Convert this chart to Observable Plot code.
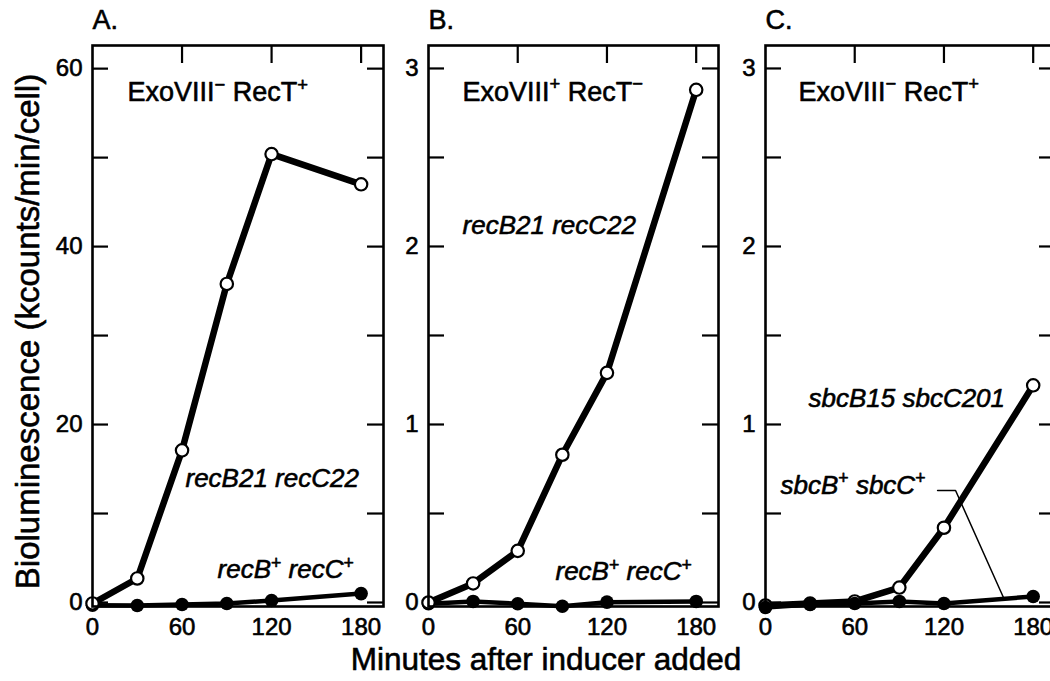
<!DOCTYPE html>
<html><head><meta charset="utf-8">
<script src="https://cdn.jsdelivr.net/npm/d3@7"></script>
<script src="https://cdn.jsdelivr.net/npm/@observablehq/plot@0.6"></script>
<style>
html,body{margin:0;padding:0;background:#fff;overflow:hidden}
#chart{position:relative;width:1050px;height:681px;overflow:hidden;background:#fff;font-family:"Liberation Sans",Arial,Helvetica,sans-serif;color:#000}
#chart svg{position:absolute;top:0}
#chart svg text{stroke:#000;stroke-width:0.6px;stroke-linejoin:round}
#xlabel{position:absolute;left:346px;width:400px;top:646.5px;height:25px;text-align:center;font-size:31.5px;line-height:25.2px;white-space:nowrap;-webkit-text-stroke:0.6px #000}
</style></head>
<body>
<div id="chart"><div id="xlabel">Minutes after inducer added</div></div>
<script>
// ---- data ----
const minutes = [0, 30, 60, 90, 120, 180];
const panelA_mutant = [-0.11, 2.7, 17.1, 35.8, 50.4, 47.0];   // recB21 recC22 (open)
const panelA_wild   = [-0.3, -0.34, -0.22, -0.11, 0.22, 1.0];  // recB+ recC+ (filled)
const panelB_mutant = [0, 0.107, 0.29, 0.83, 1.29, 2.88];      // recB21 recC22 (open)
const panelB_wild   = [-0.007, 0.006, -0.007, -0.021, 0.002, 0.006]; // recB+ recC+ (filled)
const panelC_mutant = [-0.017, -0.006, 0.006, 0.084, 0.42, 1.22];    // sbcB15 sbcC201 (open)
const panelC_wild   = [-0.028, -0.011, -0.006, 0.006, -0.006, 0.034]; // sbcB+ sbcC+ (filled)

const xTickLabels = [0, 60, 120, 180];
const xTopTicks = [60, 120, 180];
const yTicksA = [0, 10, 20, 30, 40, 50, 60];
const yLabelsA = [0, 20, 40, 60];
const yTicksBC = [0, 0.5, 1, 1.5, 2, 2.5, 3];
const yLabelsBC = [0, 1, 2, 3];

const panelTitles = ["A.", "B.", "C."];
const conditionText = ["ExoVIII\u207B RecT\u207A", "ExoVIII\u207A RecT\u207B", "ExoVIII\u207B RecT\u207A"];
const yAxisTitle = "Bioluminescence (kcounts/min/cell)";

// annotation anchors in data units (minutes, value)
const conditionAnchor = [{t: 23.5, v: 56.4}, {t: 22.9, v: 2.82}, {t: 22.2, v: 2.82}];
const strainLabelsA = [{text: "recB21 recC22", t: 62.3, v: 13.0}, {text: "recB\u207A recC\u207A", t: 83.8, v: 2.7}];
const strainLabelsB = [{text: "recB21 recC22", t: 22.9, v: 2.07}, {text: "recB\u207A recC\u207A", t: 85.4, v: 0.124}];
const strainLabelsC = [{text: "sbcB15 sbcC201", t: 28.9, v: 1.096}, {text: "sbcB\u207A sbcC\u207A", t: 10.1, v: 0.612}];
const leaderC = [{t: 115.7, v: 0.629}, {t: 127.8, v: 0.629}, {t: 160, v: 0.028}];

// ---- drawing ----
const H = 681, MT = 45, MB = 75;
const rows = arr => minutes.map((t, i) => ({t, v: arr[i]}));

// turn unicode superscript +/- into real superscript tspans
function superscripts(svg) {
  const map = {"\u207A": "+", "\u207B": "\u2212"};
  svg.querySelectorAll("text, tspan").forEach(node => {
    if (node.children.length) return;
    const s = node.textContent;
    if (!/[\u207A\u207B]/.test(s)) return;
    node.textContent = "";
    const parts = s.split(/([\u207A\u207B])/);
    const ns = "http://www.w3.org/2000/svg";
    let sup = false;
    for (const p of parts) {
      if (!p) continue;
      const ts = document.createElementNS(ns, "tspan");
      if (map[p]) {
        ts.textContent = map[p];
        ts.setAttribute("font-size", "0.68em");
        ts.setAttribute("dy", "-0.55em");
        ts.setAttribute("font-style", "normal");
        sup = true;
      } else {
        ts.textContent = p;
        if (sup) { ts.setAttribute("dy", "0.374em"); sup = false; }
      }
      node.appendChild(ts);
    }
  });
}

function panel(cfg) {
  const plotW = cfg.width - cfg.marginLeft - cfg.marginRight;
  const plotH = H - MT - MB;
  const open = rows(cfg.open), filled = rows(cfg.filled);
  const openMarks = [
    Plot.line(open, {x: "t", y: "v", stroke: "black", strokeWidth: 6.5}),
    Plot.dot(open, {x: "t", y: "v", r: 6.2, fill: "white", stroke: "black", strokeWidth: 2.2})
  ];
  const filledMarks = [
    Plot.line(filled, {x: "t", y: "v", stroke: "black", strokeWidth: 4.5}),
    Plot.dot(filled, {x: "t", y: "v", r: 6.8, fill: "black"})
  ];
  const marks = [
    Plot.tickY(cfg.yTicks, {y: d => d, insetRight: plotW - 16, strokeWidth: 2.2}),
    Plot.tickY(cfg.yTicks, {y: d => d, insetLeft: plotW - 16, strokeWidth: 2.2}),
    Plot.tickX(xTopTicks, {x: d => d, insetBottom: plotH - 18, strokeWidth: 2.2}),
    ...(cfg.filledOnTop ? [...openMarks, ...filledMarks] : [...filledMarks, ...openMarks]),
    ...(cfg.extra || []),
    Plot.frame({stroke: "black", strokeWidth: 2.6}),
    Plot.text([cfg.title], {frameAnchor: "top-left", textAnchor: "start", lineAnchor: "bottom", dy: -17, fontSize: 27}),
    Plot.text([cfg.condition], {x: () => cfg.condAnchor.t, y: () => cfg.condAnchor.v, textAnchor: "start", lineAnchor: "bottom", fontSize: 27}),
    Plot.text(cfg.strains, {x: "t", y: "v", text: "text", textAnchor: "start", lineAnchor: "bottom", fontSize: 26, fontStyle: "italic"})
  ];
  if (cfg.yTitle) marks.push(Plot.text([cfg.yTitle], {frameAnchor: "left", textAnchor: "middle", rotate: -90, dx: -64, dy: 5.5, fontSize: 33}));
  const svg = Plot.plot({
    width: cfg.width, height: H,
    marginLeft: cfg.marginLeft, marginRight: cfg.marginRight, marginTop: MT, marginBottom: MB,
    style: {fontFamily: '"Liberation Sans", Arial, Helvetica, sans-serif', fontSize: "24px", color: "black", background: "transparent", overflow: "visible"},
    x: {domain: [0, 195], ticks: xTickLabels, tickSize: 0, tickPadding: 11, label: null, tickFormat: d => String(d)},
    y: {domain: cfg.yDomain, ticks: cfg.yLabels, tickSize: 0, tickPadding: 10, label: null, tickFormat: d => String(d)},
    marks
  });
  superscripts(svg);
  svg.style.position = "absolute";
  svg.style.left = cfg.left + "px";
  svg.style.top = "0px";
  document.getElementById("chart").appendChild(svg);
}

panel({left: 0, width: 395, marginLeft: 92, marginRight: 12, yDomain: [-0.45, 62.6],
  yTicks: yTicksA, yLabels: yLabelsA, open: panelA_mutant, filled: panelA_wild,
  title: panelTitles[0], condition: conditionText[0], condAnchor: conditionAnchor[0], strains: strainLabelsA, yTitle: yAxisTitle});
panel({left: 395, width: 335, marginLeft: 33, marginRight: 12, yDomain: [-0.0225, 3.129],
  yTicks: yTicksBC, yLabels: yLabelsBC, open: panelB_mutant, filled: panelB_wild,
  title: panelTitles[1], condition: conditionText[1], condAnchor: conditionAnchor[1], strains: strainLabelsB});
panel({left: 730, width: 335, marginLeft: 35, marginRight: 10, yDomain: [-0.0225, 3.129],
  yTicks: yTicksBC, yLabels: yLabelsBC, open: panelC_mutant, filled: panelC_wild, filledOnTop: true,
  title: panelTitles[2], condition: conditionText[2], condAnchor: conditionAnchor[2], strains: strainLabelsC,
  extra: [Plot.line(leaderC, {x: "t", y: "v", stroke: "black", strokeWidth: 1.5})]});
</script>
</body></html>
